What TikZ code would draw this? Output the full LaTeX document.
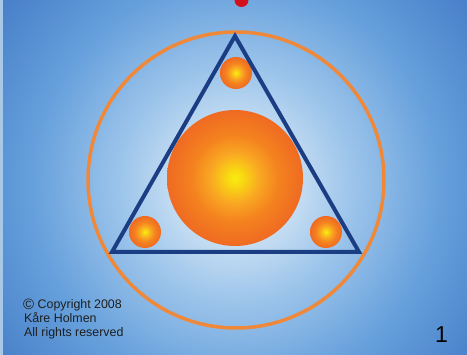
\documentclass[tikz,border=0pt]{standalone}
\usepackage{fontspec}
\setmainfont{Liberation Sans}
\definecolor{bgA}{HTML}{EAF3FB}
\definecolor{bgB}{HTML}{CFE3F4}
\definecolor{bgC}{HTML}{A2C8EC}
\definecolor{bgD}{HTML}{66A0DC}
\definecolor{bgE}{HTML}{477EC8}
\definecolor{orY}{HTML}{F9EE0E}
\definecolor{orS}{HTML}{F8D812}
\definecolor{orM}{HTML}{F9A822}
\definecolor{orO}{HTML}{F4821F}
\definecolor{orR}{HTML}{EF6A22}
\definecolor{ringc}{HTML}{F0883A}
\definecolor{tric}{HTML}{1B3D84}
\definecolor{dropc}{HTML}{D4101C}
\definecolor{stripc}{HTML}{A8C8E8}
\definecolor{txtc}{HTML}{1E1E1E}
\pgfdeclareradialshading{bgshade}{\pgfpoint{0bp}{0bp}}{color(0bp)=(bgA); color(2bp)=(bgB); color(4.5bp)=(bgC); color(8.5bp)=(bgD); color(12.5bp)=(bgE); color(50bp)=(bgE)}
\pgfdeclareradialshading{orb}{\pgfpoint{0bp}{0bp}}{color(0bp)=(orY); color(3bp)=(orS); color(9bp)=(orM); color(16bp)=(orO); color(25bp)=(orR); color(50bp)=(orR)}
\tikzset{
  sphere/.style={circle, inner sep=0pt, outer sep=0pt, shading=orb},
  copytext/.style={anchor=base west, inner sep=0pt, text=txtc, font=\fontsize{12.4}{14}\selectfont},
}
\begin{document}
\begin{tikzpicture}[x=1pt,y=-1pt]
\useasboundingbox (0,0) rectangle (467,355);
\begin{scope}
\clip (0,0) rectangle (467,355);
\shade[shading=bgshade] (236,185) circle[radius=600pt];
\fill[stripc] (0,0) rectangle (3,355);
\end{scope}
% red drop
\node[circle, fill=dropc, inner sep=0pt, minimum size=14pt] (drop) at (241.5,0) {};
% ring
\node[circle, draw=ringc, line width=3.5pt, inner sep=0pt, minimum size=296pt] (ring) at (236,180) {};
% big sphere
\node[sphere, minimum size=136pt] (big) at (235,178) {};
% small spheres
\node[sphere, minimum size=32pt] (top) at (236,73) {};
\node[sphere, minimum size=32pt] (left) at (145,232) {};
\node[sphere, minimum size=32pt] (right) at (326,232) {};
% triangle
\coordinate (A) at (235,36);
\coordinate (B) at (112,252);
\coordinate (C) at (359,252);
\draw[tric, line width=4pt, line join=miter] (A) -- (B) -- (C) -- cycle;
% texts
\node[copytext] (t1) at (23,309) {\fontsize{15}{15}\selectfont\raisebox{-0.5pt}{©}\fontsize{12.4}{14}\selectfont\ Copyright 2008};
\node[copytext] (t2) at (24,323) {Kåre Holmen};
\node[copytext] (t3) at (24,337) {All rights reserved};
\node[anchor=base west, inner sep=0pt, font=\fontsize{23}{25}\selectfont] (num) at (435,343) {1};
\end{tikzpicture}
\end{document}
